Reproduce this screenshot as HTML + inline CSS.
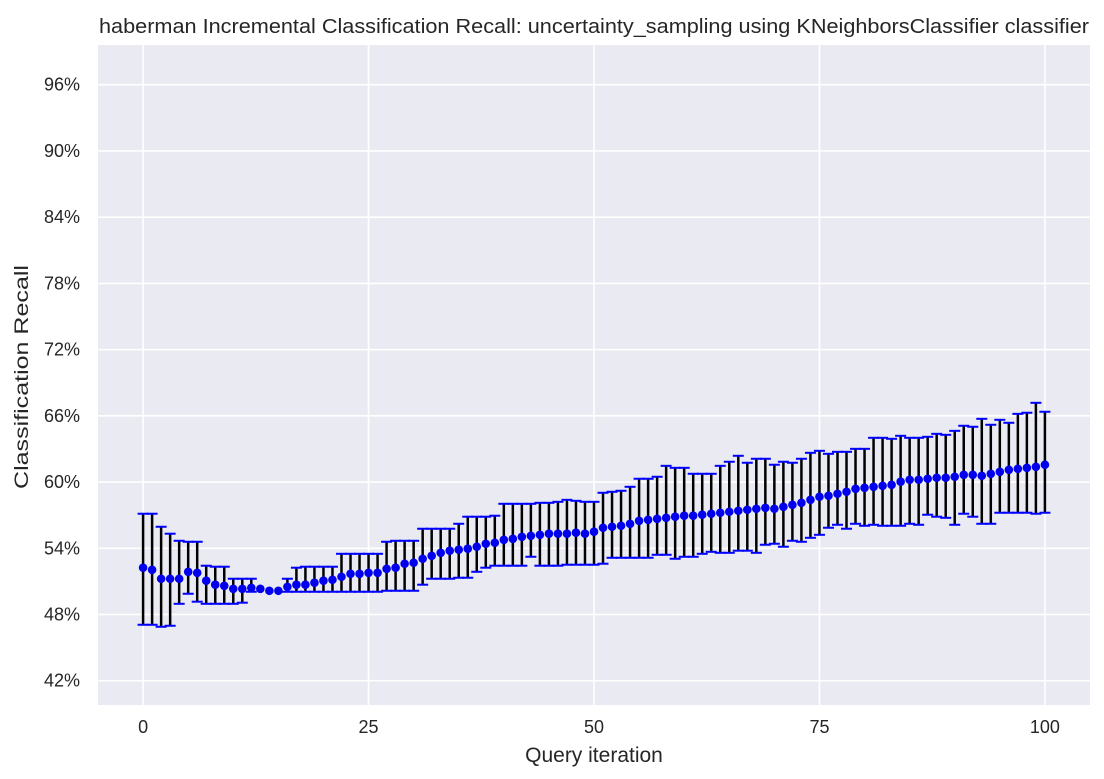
<!DOCTYPE html>
<html><head><meta charset="utf-8"><style>
body{margin:0;background:#fff;width:1104px;height:779px;overflow:hidden}
svg{display:block;font-family:"Liberation Sans",sans-serif}
</style></head><body>
<svg id="chart" width="1104" height="779" viewBox="0 0 1104 779"></svg>
<script>
const iterations = Array.from({length:101},(_,i)=>i);
const meanRecall = [52.24,52.05,51.24,51.24,51.24,51.87,51.78,51.06,50.70,50.60,
50.33,50.33,50.42,50.33,50.15,50.15,50.51,50.70,50.70,50.88,
51.06,51.15,51.42,51.69,51.69,51.78,51.78,52.14,52.24,52.60,
52.69,53.05,53.32,53.59,53.78,53.87,53.96,54.14,54.41,54.50,
54.77,54.86,55.04,55.13,55.22,55.32,55.32,55.32,55.41,55.32,
55.50,55.86,55.95,56.04,56.22,56.49,56.58,56.67,56.76,56.86,
56.95,56.95,57.04,57.13,57.22,57.31,57.40,57.49,57.58,57.67,
57.58,57.76,57.94,58.12,58.39,58.67,58.76,58.94,59.12,59.39,
59.48,59.57,59.66,59.75,60.03,60.21,60.21,60.30,60.39,60.39,
60.48,60.66,60.66,60.57,60.75,60.93,61.11,61.20,61.29,61.38,61.57];
const upperRecall = [57.13,57.13,55.95,55.32,54.68,54.59,54.59,52.42,52.33,52.33,
51.24,51.24,51.24,50.33,50.15,50.15,51.24,52.24,52.33,52.33,
52.33,52.33,53.50,53.50,53.50,53.50,53.50,54.59,54.68,54.68,
54.68,55.77,55.77,55.77,55.77,56.22,56.86,56.86,56.86,56.95,
58.03,58.03,58.03,58.03,58.12,58.12,58.21,58.39,58.30,58.21,
58.21,59.03,59.12,59.21,59.57,60.30,60.30,60.48,61.47,61.29,
61.29,60.75,60.75,60.75,61.47,61.84,62.38,61.75,62.11,62.11,
61.57,61.84,61.75,62.11,62.65,62.83,62.56,62.74,62.74,63.01,
63.01,64.01,64.01,63.92,64.19,64.01,64.01,64.10,64.37,64.28,
64.64,65.10,65.01,65.73,65.19,65.64,65.37,66.18,66.28,67.18,66.37];
const lowerRecall = [47.07,47.07,46.89,46.98,48.97,49.88,49.16,48.97,48.97,48.97,
48.97,49.07,50.06,50.33,50.15,50.15,50.06,50.06,50.06,50.06,
50.06,50.06,50.06,50.06,50.06,50.06,50.06,50.15,50.15,50.15,
50.15,50.70,51.24,51.24,51.24,51.33,51.33,51.87,52.24,52.42,
52.42,52.42,52.42,53.23,52.42,52.42,52.42,52.51,52.51,52.51,
52.51,52.60,53.14,53.14,53.14,53.14,53.14,53.41,53.41,53.05,
53.23,53.23,53.50,53.68,53.59,53.59,53.78,53.78,53.59,54.32,
54.41,54.14,54.68,54.59,54.95,55.22,55.86,56.13,55.77,56.22,
56.04,56.13,56.04,56.04,56.04,56.22,56.13,57.04,56.86,56.76,
56.13,57.13,56.86,56.22,56.22,57.22,57.22,57.22,57.22,57.13,57.22];
const xTicks = [0,25,50,75,100];
const yTicks = [42,48,54,60,66,72,78,84,90,96];

const NS="http://www.w3.org/2000/svg";
const svg=document.getElementById('chart');
const L=98,R=1090,T=45,B=705;
const xMin=-5,xMax=105,yMin=39.8,yMax=99.6;
const sx=v=>L+(v-xMin)/(xMax-xMin)*(R-L);
const sy=v=>B-(v-yMin)/(yMax-yMin)*(B-T);
function mk(tag,attrs,parent){const e=document.createElementNS(NS,tag);for(const k in attrs)e.setAttribute(k,attrs[k]);(parent||svg).appendChild(e);return e;}

const bg=mk('rect',{x:L,y:T,width:R-L,height:B-T,fill:'#eaeaf2'});



xTicks.forEach(t=>{
  const g=mk('line',{x1:sx(t),x2:sx(t),y1:T,y2:B,stroke:'#fff','stroke-width':1.6});
  
  
  const tx=mk('text',{x:sx(t),y:B+28,'text-anchor':'middle','font-size':18,fill:'#262626'});
  tx.textContent=t;
  
  
});
yTicks.forEach(t=>{
  const g=mk('line',{x1:L,x2:R,y1:sy(t),y2:sy(t),stroke:'#fff','stroke-width':1.6});
  
  
  const tx=mk('text',{x:L-18,y:sy(t)+6,'text-anchor':'end','font-size':18,fill:'#262626'});
  tx.textContent=t+'%';
  
  
});

iterations.forEach((it,i)=>{
  const x=sx(it),yu=sy(upperRecall[i]),yl=sy(lowerRecall[i]);
  if(yl-yu>0.5){
    const ln=mk('line',{x1:x,x2:x,y1:yu,y2:yl,stroke:'#000','stroke-width':2.5});
    
    
    const c1=mk('line',{x1:x-5.5,x2:x+5.5,y1:yu,y2:yu,stroke:'#0000ff','stroke-width':2});
    
    
    const c2=mk('line',{x1:x-5.5,x2:x+5.5,y1:yl,y2:yl,stroke:'#0000ff','stroke-width':2});
    
    
  }
});
iterations.forEach((it,i)=>{
  const p=mk('circle',{cx:sx(it),cy:sy(meanRecall[i]),r:4.3,fill:'#0000ee'});
  
  
});

const title=mk('text',{x:L+1,y:33,'font-size':20,fill:'#262626',textLength:990,lengthAdjust:'spacingAndGlyphs'});
title.textContent='haberman Incremental Classification Recall: uncertainty_sampling using KNeighborsClassifier classifier';


const xl=mk('text',{x:(L+R)/2,y:762,'text-anchor':'middle','font-size':21,fill:'#262626'});
xl.textContent='Query iteration';


const yl=mk('text',{x:0,y:0,'text-anchor':'middle','font-size':19,fill:'#262626',transform:`translate(28,${(T+B)/2+2}) rotate(-90)`,textLength:224,lengthAdjust:'spacingAndGlyphs'});
yl.textContent='Classification Recall';


</script>
</body></html>
